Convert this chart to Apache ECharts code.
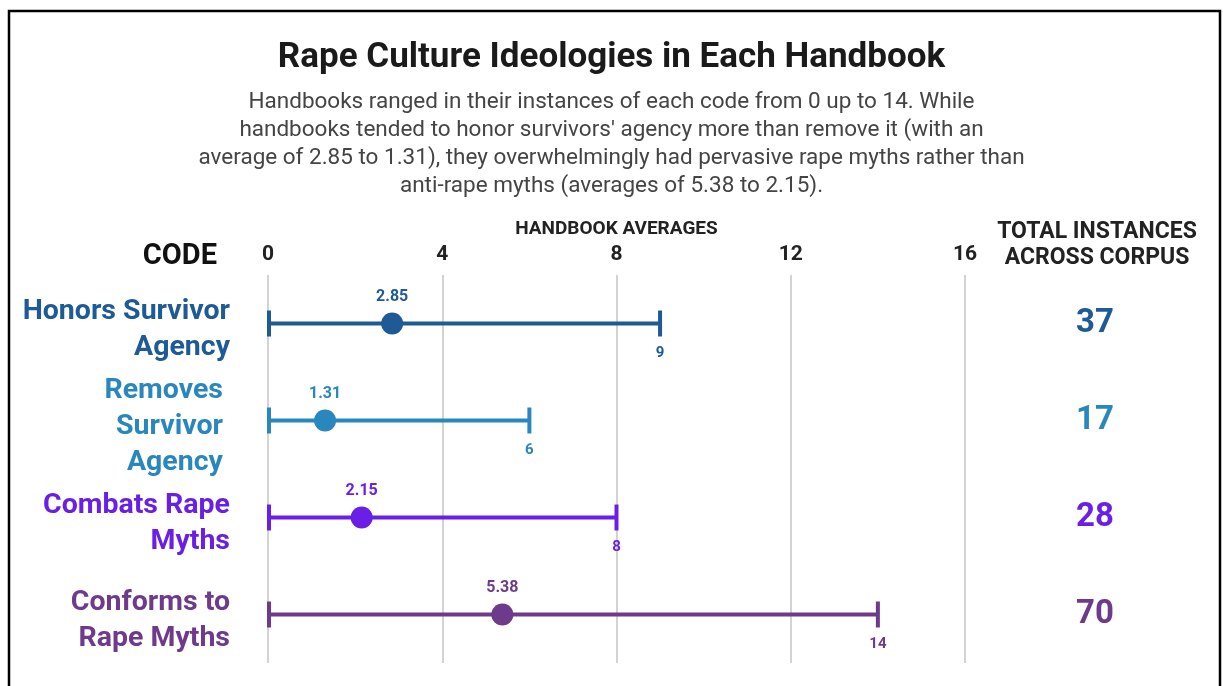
<!DOCTYPE html>
<html>
<head>
<meta charset="utf-8">
<script src="https://cdn.jsdelivr.net/npm/echarts@6/dist/echarts.min.js"></script>
<style>
html,body{margin:0;padding:0;background:#fff;}
#main{width:1223px;height:686px;}
</style>
</head>
<body>
<div id="main"></div>
<script>
const categories = ['Honors Survivor\nAgency', 'Removes \nSurvivor \nAgency ', 'Combats Rape\nMyths', 'Conforms to\nRape Myths'];
const averages = [2.85, 1.31, 2.15, 5.38];
const minimums = [0, 0, 0, 0];
const maximums = [9, 6, 8, 14];
const totals = [37, 17, 28, 70];
const rowColors = ['#1d5a96', '#2a87bd', '#6a1fe6', '#6e3a8c'];

const titleText = 'Rape Culture Ideologies in Each Handbook';
const subText = "Handbooks ranged in their instances of each code from 0 up to 14. While\nhandbooks tended to honor survivors' agency more than remove it (with an\naverage of 2.85 to 1.31), they overwhelmingly had pervasive rape myths rather than\nanti-rape myths (averages of 5.38 to 2.15).";

const FONT = 'Roboto';
const chart = echarts.init(document.getElementById('main'), null, {renderer: 'canvas'});

const rangeData = categories.map((c, i) => [i, minimums[i], maximums[i], totals[i]]);
const avgData = categories.map((c, i) => [averages[i], i]);

chart.setOption({
  backgroundColor: '#fff',
  animation: false,
  title: {
    text: titleText,
    subtext: subText,
    left: 'center',
    top: 36,
    itemGap: 12,
    textStyle: {fontFamily: FONT, fontWeight: 'bold', fontSize: 35, color: '#1a1a1a'},
    subtextStyle: {fontFamily: FONT, fontSize: 22.5, color: '#444', lineHeight: 28, align: 'center'}
  },
  grid: {left: 268, right: 258, top: 275, height: 388},
  xAxis: {
    type: 'value', position: 'top', min: 0, max: 16, interval: 4,
    name: 'HANDBOOK AVERAGES', nameLocation: 'middle', nameGap: 36,
    nameTextStyle: {fontFamily: FONT, fontWeight: 'bold', fontSize: 19, color: '#222'},
    axisLine: {show: false}, axisTick: {show: false},
    axisLabel: {fontFamily: FONT, fontWeight: 'bold', fontSize: 21, color: '#222', margin: 10},
    splitLine: {show: true, lineStyle: {color: '#c4c4c4', width: 1.5}}
  },
  yAxis: {
    type: 'category', data: categories, inverse: true,
    axisLine: {show: false}, axisTick: {show: false}, splitLine: {show: false},
    axisLabel: {show: false}
  },
  graphic: [
    {type: 'rect', shape: {x: 9, y: 11, width: 1211, height: 700}, style: {fill: 'none', stroke: '#000', lineWidth: 2.5}, silent: true},
    {type: 'text', x: 217, y: 257, style: {text: 'CODE', fontFamily: FONT, fontWeight: 'bold', fontSize: 29, fill: '#111', align: 'right', verticalAlign: 'middle'}},
    {type: 'text', x: 1097, y: 245, style: {text: 'TOTAL INSTANCES\nACROSS CORPUS', fontFamily: FONT, fontWeight: 'bold', fontSize: 23, lineHeight: 26, fill: '#222', align: 'center', verticalAlign: 'middle'}}
  ],
  series: [
    {
      type: 'custom',
      data: rangeData,
      encode: {x: [1, 2], y: 0},
      z: 2,
      renderItem: function (params, api) {
        const i = api.value(0);
        const p0 = api.coord([api.value(1), i]);
        const p1 = api.coord([api.value(2), i]);
        const cs = params.coordSys;
        const c = rowColors[i];
        const capH = 13;
        return {
          type: 'group',
          children: [
            {type: 'line', shape: {x1: p0[0], y1: p0[1], x2: p1[0], y2: p1[1]}, style: {stroke: c, lineWidth: 4}},
            {type: 'line', shape: {x1: p0[0] + 1, y1: p0[1] - capH, x2: p0[0] + 1, y2: p0[1] + capH}, style: {stroke: c, lineWidth: 4}},
            {type: 'line', shape: {x1: p1[0], y1: p1[1] - capH, x2: p1[0], y2: p1[1] + capH}, style: {stroke: c, lineWidth: 4}},
            {type: 'text', x: p1[0], y: p1[1] + 30, style: {text: String(api.value(2)), fontFamily: FONT, fontWeight: 'bold', fontSize: 15, fill: c, align: 'center', verticalAlign: 'middle'}},
            {type: 'text', x: cs.x + cs.width + 130, y: p0[1], style: {text: String(api.value(3)), fontFamily: FONT, fontWeight: 'bold', fontSize: 33, fill: c, align: 'center', verticalAlign: 'middle'}},
            {type: 'text', x: cs.x - 38, y: p0[1] + 6, style: {text: categories[i], fontFamily: FONT, fontWeight: 'bold', fontSize: 28.5, lineHeight: 36, fill: c, align: 'right', verticalAlign: 'middle'}}
          ]
        };
      }
    },
    {
      type: 'scatter',
      data: avgData,
      symbol: 'circle',
      symbolSize: 22,
      z: 3,
      itemStyle: {color: p => rowColors[p.dataIndex], opacity: 1},
      label: {
        show: true, position: 'top', distance: 8,
        formatter: p => p.value[0].toFixed(2),
        fontFamily: FONT, fontWeight: 'bold', fontSize: 16,
        color: 'inherit'
      }
    }
  ]
});
</script>
</body>
</html>
